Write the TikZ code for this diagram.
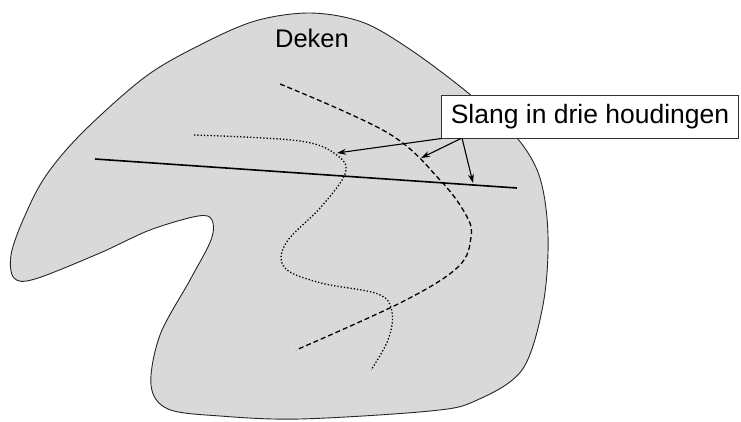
\documentclass[tikz,border=0pt]{standalone}
\usepackage{fontspec}
\setmainfont{Liberation Sans}
\usetikzlibrary{arrows.meta}
\begin{document}
\begin{tikzpicture}[x=1pt,y=-1pt,
  blob/.style={draw=black!85,fill=black!15,line width=0.9pt},
  snake/.style={line width=1.3pt},
  ptr/.style={-{Stealth[length=9pt,width=6pt]},line width=1.1pt},
  lbl/.style={draw=black!80,fill=white,line width=0.8pt,minimum width=297pt,minimum height=43pt,inner sep=0pt,font=\fontsize{26.5}{28}\selectfont}]
\useasboundingbox (0,0) rectangle (741,421);
\draw[blob] plot[smooth cycle,tension=0.55] coordinates {
 (310,13) (362,22) (408,48) (462,88) (512,132) (539,175) (548,235) (543,305)
 (522,370) (475,401) (430,411) (300,419) (220,416) (168,409) (151,385) (160,335)
 (190,280) (211,240) (212,220) (198,216) (150,230) (100,253) (35,279) (14,278)
 (11,255) (23,220) (45,177) (82,133) (145,77) (200,45) (255,21)};
\node[font=\fontsize{25.5}{27}\selectfont] (deken) at (312,38) {Deken};
% solid
\coordinate (s1) at (95,159);
\coordinate (s2) at (517,188);
\draw[line width=1.6pt] (s1) -- (s2);
% dashed
\draw[snake,dash pattern=on 5pt off 3pt] plot[smooth,tension=0.6] coordinates {
 (280,84) (388,133) (440,180) (466,215) (471,237) (458,267) (402,302) (296,350)};
% dotted
\draw[snake,dash pattern=on 1.3pt off 2pt] plot[smooth,tension=0.6] coordinates {
 (194,135) (300,141) (338,156) (345,174) (321,207) (286,243) (285,268) (321,283)
 (378,294) (392,312) (388,340) (371,370)};
\node[lbl] (box) at (590,116.5) {Slang in drie houdingen};
\coordinate (a1) at (337,153);
\coordinate (a2) at (421,158);
\coordinate (a3) at (473,183);
\draw[ptr] ([xshift=1pt]box.south west) -- (a1);
\draw[ptr] ([xshift=20pt]box.south west) -- (a2);
\draw[ptr] ([xshift=21pt]box.south west) -- (a3);
\end{tikzpicture}
\end{document}
